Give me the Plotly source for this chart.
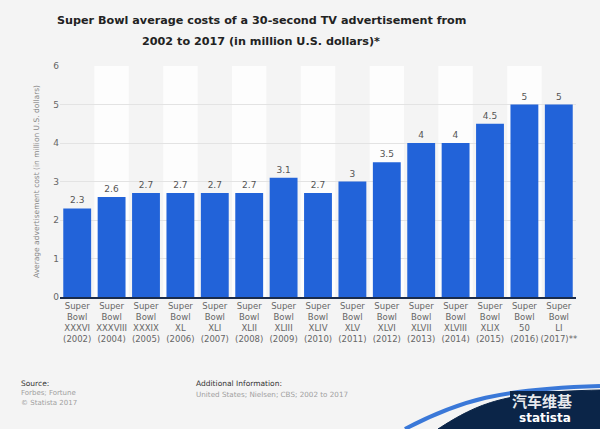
import plotly.graph_objects as go

games = ["XXXVI", "XXXVIII", "XXXIX", "XL", "XLI", "XLII", "XLIII", "XLIV",
         "XLV", "XLVI", "XLVII", "XLVIII", "XLIX", "50", "LI"]
years = ["(2002)", "(2004)", "(2005)", "(2006)", "(2007)", "(2008)", "(2009)", "(2010)",
         "(2011)", "(2012)", "(2013)", "(2014)", "(2015)", "(2016)", "(2017)**"]
costs = [2.3, 2.6, 2.7, 2.7, 2.7, 2.7, 3.1, 2.7, 3, 3.5, 4, 4, 4.5, 5, 5]
value_labels = ["2.3", "2.6", "2.7", "2.7", "2.7", "2.7", "3.1", "2.7", "3", "3.5",
                "4", "4", "4.5", "5", "5"]
y_ticks = [0, 1, 2, 3, 4, 5, 6]

categories = [f"Super<br>Bowl<br>{g}<br>{y}" for g, y in zip(games, years)]

W, H = 600, 429
L, R, T, B = 60, 24, 66, 132
pw, ph = W - L - R, H - T - B

def px(x):
    return (x - L) / pw

def py(y):
    return (H - B - y) / ph

fig = go.Figure()
fig.add_trace(go.Bar(
    x=list(range(len(costs))), y=costs,
    marker=dict(color="#2263d9", line=dict(width=0)),
    text=value_labels, textposition="outside", constraintext="none",
    textfont=dict(size=9, color="#555555", family="DejaVu Sans"),
    outsidetextfont=dict(size=9, color="#555555", family="DejaVu Sans"),
    cliponaxis=False, hoverinfo="skip",
))

shapes = []
for i in range(len(costs)):
    if i % 2 == 1:
        shapes.append(dict(type="rect", xref="x", yref="y", x0=i - 0.5, x1=i + 0.5,
                           y0=0, y1=6, fillcolor="#fdfdfd", line=dict(width=0), layer="below"))

# watermark footer: blue swoosh band + navy block
blue = (f"M {px(405)},{py(429)} C {px(460)},{py(400)} {px(500)},{py(389)} {px(600)},{py(386)}")
shapes.append(dict(type="path", xref="paper", yref="paper", path=blue,
                   line=dict(color="#3a78d8", width=4), layer="above"))
navy = (f"M {px(438)},{py(429)} C {px(480)},{py(402)} {px(505)},{py(392)} {px(600)},{py(390)} "
        f"L {px(600)},{py(429)} Z")
shapes.append(dict(type="path", xref="paper", yref="paper", path=navy,
                   fillcolor="#0b2548", line=dict(color="#0b2548", width=1), layer="above"))
shapes.append(dict(type="rect", xref="paper", yref="paper", x0=px(510), x1=px(600),
                   y0=py(429), y1=py(391), fillcolor="#0b2548", line=dict(width=0),
                   layer="above"))

title_font = dict(size=11.2, color="#222222", family="DejaVu Sans")
annotations = [
    dict(text="<b>Super Bowl average costs of a 30-second TV advertisement from</b>",
         x=px(261), y=py(20), xref="paper", yref="paper", xanchor="center",
         yanchor="middle", showarrow=False, font=title_font),
    dict(text="<b>2002 to 2017 (in million U.S. dollars)*</b>",
         x=px(261), y=py(41), xref="paper", yref="paper", xanchor="center",
         yanchor="middle", showarrow=False, font=title_font),
    dict(text="Source:", x=px(19), y=py(383), xref="paper", yref="paper", xanchor="left",
         yanchor="middle", showarrow=False, font=dict(size=7.5, color="#333333", family="DejaVu Sans")),
    dict(text="Forbes; Fortune", x=px(19), y=py(393), xref="paper", yref="paper", xanchor="left",
         yanchor="middle", showarrow=False, font=dict(size=7, color="#a0a0a0", family="DejaVu Sans")),
    dict(text="© Statista 2017", x=px(19), y=py(403), xref="paper", yref="paper", xanchor="left",
         yanchor="middle", showarrow=False, font=dict(size=7, color="#a0a0a0", family="DejaVu Sans")),
    dict(text="Additional Information:", x=px(194), y=py(383), xref="paper", yref="paper",
         xanchor="left", yanchor="middle", showarrow=False,
         font=dict(size=7.5, color="#333333", family="DejaVu Sans")),
    dict(text="United States; Nielsen; CBS; 2002 to 2017", x=px(194), y=py(394), xref="paper",
         yref="paper", xanchor="left", yanchor="middle", showarrow=False,
         font=dict(size=7.2, color="#a0a0a0", family="DejaVu Sans")),
    dict(text="<b>汽车维基</b>", x=px(542), y=py(400), xref="paper", yref="paper",
         xanchor="center", yanchor="middle", showarrow=False, opacity=0.9,
         font=dict(size=15, color="#ffffff", family="Noto Sans CJK SC")),
    dict(text="<b>statista</b>", x=px(545), y=py(418), xref="paper", yref="paper",
         xanchor="center", yanchor="middle", showarrow=False,
         font=dict(size=12, color="#ffffff", family="DejaVu Sans")),
]

fig.update_layout(
    width=W, height=H,
    margin=dict(l=L, r=R, t=T, b=B),
    paper_bgcolor="#f4f4f4", plot_bgcolor="#f4f4f4",
    showlegend=False, bargap=0.19, uniformtext=dict(mode=False),
    shapes=shapes, annotations=annotations,
    xaxis=dict(tickmode="array", tickvals=list(range(len(costs))), ticktext=categories,
               range=[-0.5, len(costs) - 0.5], showgrid=False, zeroline=False,
               tickangle=0, automargin=False,
               tickfont=dict(size=8.5, color="#666666", family="DejaVu Sans"),
               showline=True, linecolor="#1a2b4a", linewidth=1.5, ticks=""),
    yaxis=dict(range=[0, 6], tickvals=y_ticks, showgrid=True, gridcolor="#e3e3e3",
               zeroline=False, automargin=False,
               tickfont=dict(size=9, color="#666666", family="DejaVu Sans"),
               title=dict(text="Average advertisement cost (in million U.S. dollars)",
                          font=dict(size=7.5, color="#888888", family="DejaVu Sans"), standoff=12),
               ticks="", layer="below traces"),
)

fig.write_html("out.html", config={"displayModeBar": False},
               post_script="document.body.style.margin='0';document.body.style.background='#f4f4f4';")
